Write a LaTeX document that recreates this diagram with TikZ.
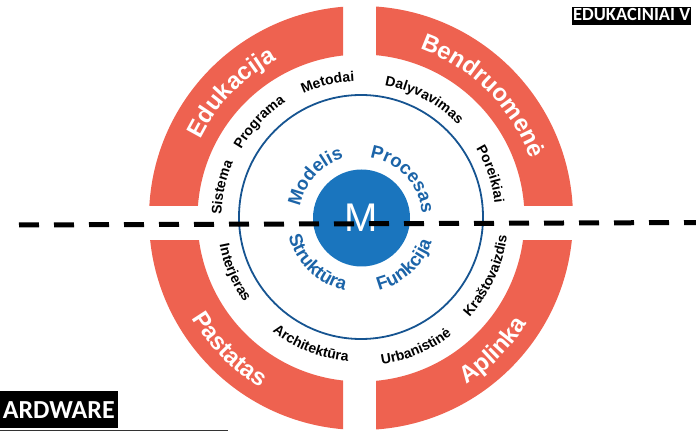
\documentclass[tikz,border=0pt]{standalone}
\usepackage{fontspec}
\setmainfont{Liberation Sans}
\newfontfamily\boxfont{Carlito}
\usetikzlibrary{decorations.text}

\definecolor{ringred}{RGB}{238,98,80}
\definecolor{coreblue}{RGB}{26,117,190}
\definecolor{lineblue}{RGB}{22,84,145}
\definecolor{textblue}{RGB}{28,100,168}

\newcommand\ringfont{\bfseries\fontsize{24}{28}\selectfont}
\newcommand\rimfont{\bfseries\fontsize{14}{17}\selectfont}
\newcommand\corefont{\bfseries\fontsize{18.5}{22}\selectfont}

\begin{document}
\begin{tikzpicture}[x=1pt, y=1pt,
    ringtext/.style={decorate, decoration={text along path, text align=center, text color=white}},
    rimtext/.style={decorate, decoration={text along path, text align=center, text color=black}},
    coretext/.style={decorate, decoration={text along path, text align=center, text color=textblue}},
    tagbox/.style={fill=black, text=white, inner ysep=0pt}]
    \useasboundingbox (0,0) rectangle (696,431);
    \coordinate (C) at (361,213);

    % Outer ring: four red segments, cut apart by a cross of white strips
    \foreach \xa/\ya/\xb/\yb in {0/225/343/431, 376/225/696/431, 0/0/343/190, 376/0/696/190} {
        \begin{scope}
            \clip (\xa,\ya) rectangle (\xb,\yb);
            \fill[ringred, even odd rule] (C) circle (212) (C) circle (163.5);
        \end{scope}
    }

    \begin{scope}[shift={(C)}]
        % Segment titles
        \path[ringtext, decoration={text={|\ringfont|Edukacija}}] (181:179) arc[start angle=181, end angle=91, radius=179];
        \path[ringtext, decoration={text={|\ringfont|Bendruomenė}}] (90:179) arc[start angle=90, end angle=0, radius=179];
        \path[ringtext, decoration={text={|\ringfont|Pastatas}}] (180:197) arc[start angle=180, end angle=270, radius=197];
        \path[ringtext, decoration={text={|\ringfont|Aplinka}}] (270:197) arc[start angle=270, end angle=360, radius=197];

        % Words between the ring and the blue circle
        \path[rimtext, decoration={text={|\rimfont|Sistema}}] (197.6:139.5) arc[start angle=197.6, end angle=137.6, radius=139.5];
        \path[rimtext, decoration={text={|\rimfont|Programa}}] (166.7:138) arc[start angle=166.7, end angle=106.7, radius=138];
        \path[rimtext, decoration={text={|\rimfont|Metodai}}] (133.8:137) arc[start angle=133.8, end angle=73.8, radius=137];
        \path[rimtext, decoration={text={|\rimfont|Dalyvavimas}}] (91.8:134.5) arc[start angle=91.8, end angle=31.8, radius=134.5];
        \path[rimtext, decoration={text={|\rimfont|Poreikiai}}] (48.8:134.5) arc[start angle=48.8, end angle=-11.2, radius=134.5];
        \path[rimtext, decoration={text={|\rimfont|Interjeras}}] (173.3:144) arc[start angle=173.3, end angle=233.3, radius=144];
        \path[rimtext, decoration={text={|\rimfont|Architektūra}}] (218.4:144) arc[start angle=218.4, end angle=278.4, radius=144];
        \path[rimtext, decoration={text={|\rimfont|Urbanistinė}}] (263:148) arc[start angle=263, end angle=323, radius=148];
        \path[rimtext, decoration={text={|\rimfont|Kraštovaizdis}}] (305.4:147) arc[start angle=305.4, end angle=365.4, radius=147];

        % Blue circle and core
        \draw[lineblue, line width=1.8pt] (0,1) circle (122);
        \node[circle, fill=coreblue, minimum size=97pt, inner sep=0pt, text=white,
              font=\fontsize{40}{40}\selectfont] (core) at (0.5,0) {M};

        \path[coretext, decoration={text={|\corefont|Modelis}}] (188:62) arc[start angle=188, end angle=88, radius=62];
        \path[coretext, decoration={text={|\corefont|Procesas}}] (93:61) arc[start angle=93, end angle=-7, radius=61];
        \path[coretext, decoration={text={|\corefont|Struktūra}}] (175.6:74.5) arc[start angle=175.6, end angle=275.6, radius=74.5];
        \path[coretext, decoration={text={|\corefont|Funkcija}}] (262.6:74.5) arc[start angle=262.6, end angle=362.6, radius=74.5];
    \end{scope}

    % Dashed cut across the picture
    \coordinate (cutL) at (19,206);
    \coordinate (cutR) at (700,208.5);
    \draw[black, line width=5pt, dash pattern=on 20pt off 15pt] (cutL) -- (cutR);

    % Cropped heading boxes
    \node[tagbox, anchor=north west, inner xsep=1pt, text height=13.6pt, text depth=4pt,
          font=\boxfont\bfseries\fontsize{18.5}{22}\selectfont] (edu) at (572,424) {EDUKACINIAI V};
    \node[tagbox, anchor=south east, inner xsep=3pt, text height=26.6pt, text depth=9.7pt,
          font=\boxfont\bfseries\fontsize{26}{30}\selectfont] (hw) at (118,3) {ARDWARE};
    \coordinate (ruleL) at (0,0.6);
    \coordinate (ruleR) at (228,0.6);
    \draw[black!80, line width=0.8pt] (ruleL) -- (ruleR);
\end{tikzpicture}
\end{document}
